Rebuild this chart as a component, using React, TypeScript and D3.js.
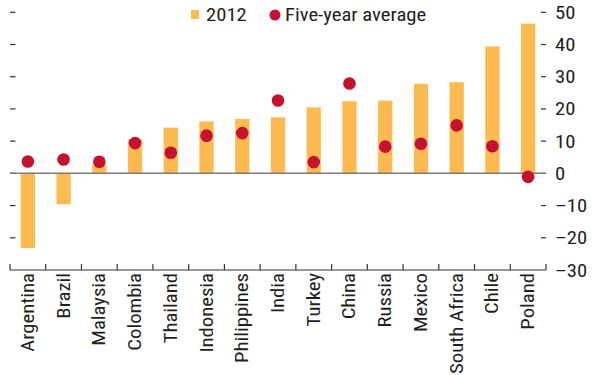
import React from "react";
import * as d3 from "d3";

const categories = ["Argentina","Brazil","Malaysia","Colombia","Thailand","Indonesia","Philippines","India","Turkey","China","Russia","Mexico","South Africa","Chile","Poland"];
const values2012 = [-23.2,-9.6,2.8,10.6,14.2,16.1,16.9,17.4,20.5,22.4,22.6,27.8,28.3,39.4,46.5];
const fiveYearAvg = [3.7,4.3,3.6,9.4,6.4,11.7,12.5,22.6,3.5,27.9,8.3,9.2,14.9,8.4,-1.1];
const yTicks = [50,40,30,20,10,0,-10,-20,-30];

const W = 596, H = 375;
const left = 10, right = 546, top = 12.3, bottom = 270;
const font = "'Roboto Condensed', 'Liberation Sans Narrow', sans-serif";
const textColor = "#231f20";
const sx = 1.15;

export default function App() {
  const x = d3.scaleBand<string>().domain(categories).range([left, right]).paddingInner(0.6).paddingOuter(0.3);
  const y = d3.scaleLinear().domain([-30, 50]).range([bottom, top]);
  const step = x.step();
  const fmt = (v: number) => (v < 0 ? "\u2013" + Math.abs(v) : String(v));

  return (
    <svg width={W} height={H} style={{ position: "absolute", left: 0, top: 0, background: "#fff" }}>
      {/* legend */}
      <rect x={191} y={10} width={8} height={9} fill="#FDBA50" />
      <text transform={`translate(206,20.5) scale(${sx},1)`} fontFamily={font} fontSize={18} fill={textColor}>2012</text>
      <circle cx={275} cy={15} r={5.5} fill="#C41230" />
      <text transform={`translate(285,20.5) scale(${sx},1)`} fontFamily={font} fontSize={18} fill={textColor}>Five-year average</text>

      {/* left ticks */}
      {yTicks.slice(0, -1).map((t) => (
        <line key={"l" + t} x1={left} x2={left + 5.5} y1={y(t)} y2={y(t)} stroke="#333" strokeWidth={1.2} />
      ))}
      {/* right ticks and labels */}
      {yTicks.map((t) => (
        <g key={"r" + t}>
          {t !== -30 && <line x1={right - 5} x2={right} y1={y(t)} y2={y(t)} stroke="#333" strokeWidth={1.2} />}
          <text transform={`translate(555,${y(t) + 6.5}) scale(${sx},1)`} fontFamily={font} fontSize={18} fill={textColor}>{fmt(t)}</text>
        </g>
      ))}

      {/* bars */}
      {categories.map((c, i) => {
        const v = values2012[i];
        return (
          <rect key={"b" + c} x={x(c)!} width={x.bandwidth()} y={y(Math.max(0, v))}
            height={Math.abs(y(v) - y(0))} fill="#FDBA50" />
        );
      })}
      {/* zero line */}
      <line x1={left} x2={right} y1={y(0)} y2={y(0)} stroke="#7a7a7a" strokeWidth={1.5} />
      {/* dots */}
      {categories.map((c, i) => (
        <circle key={"d" + c} cx={x(c)! + x.bandwidth() / 2} cy={y(fiveYearAvg[i])} r={6.3} fill="#C41230" />
      ))}

      {/* bottom axis */}
      <line x1={left} x2={right} y1={bottom} y2={bottom} stroke="#333" strokeWidth={1.2} />
      {d3.range(categories.length + 1).map((k) => (
        <line key={"t" + k} x1={left + k * step} x2={left + k * step} y1={bottom - 6} y2={bottom} stroke="#333" strokeWidth={1.2} />
      ))}
      {categories.map((c) => {
        const cx = x(c)! + x.bandwidth() / 2;
        return (
          <text key={"c" + c} transform={`translate(${cx + 6},${273}) rotate(-90) scale(${sx},1)`} textAnchor="end"
            fontFamily={font} fontSize={18} fill={textColor}>{c}</text>
        );
      })}
    </svg>
  );
}
